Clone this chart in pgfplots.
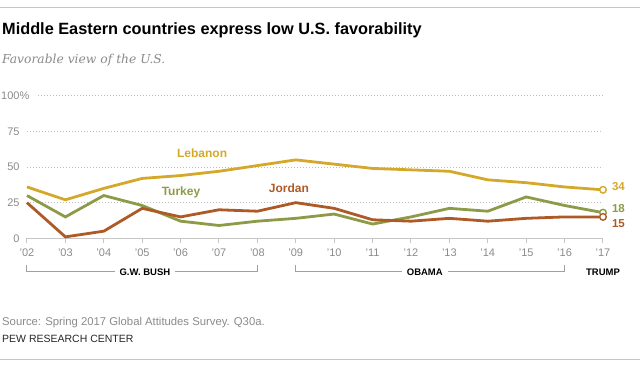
\documentclass[border=0pt]{standalone}
\usepackage{pgfplots}
\pgfplotsset{compat=1.18}
\usepackage{fontspec}
\setmainfont{Liberation Sans}
\newfontfamily\serifit{DejaVu Serif}
\definecolor{leb}{HTML}{D4A92B}
\definecolor{tur}{HTML}{8D9B48}
\definecolor{jor}{HTML}{AE5A27}
\definecolor{tickc}{HTML}{8A8A8A}
\definecolor{gridc}{HTML}{BDBDBD}
\definecolor{bracketc}{HTML}{A0A0A0}
\begin{document}
\begin{tikzpicture}
\path[use as bounding box] (0,0) rectangle (640pt,368pt);
\draw[gray!45, line width=1pt] (0,361pt) -- (640pt,361pt);
\draw[gray!45, line width=1pt] (0,8.7pt) -- (640pt,8.7pt);
\node[anchor=base west, inner sep=0] at (2pt,333.7pt) {\fontsize{16.3}{19}\selectfont\bfseries Middle Eastern countries express low U.S. favorability};
\node[anchor=base west, inner sep=0, text=tickc] at (2pt,304.7pt) {\serifit\itshape\fontsize{12.3}{14}\selectfont Favorable view of the U.S.};
\node[anchor=base west, inner sep=0, text=tickc] at (2pt,43pt) {\fontsize{11.3}{13}\selectfont Source: Spring 2017 Global Attitudes Survey. Q30a.};
\node[anchor=base west, inner sep=0, text=black!85] at (2pt,25.3pt) {\fontsize{10.5}{12}\selectfont PEW RESEARCH CENTER};
\begin{axis}[
  at={(27pt,129.7pt)}, anchor=south west,
  scale only axis, width=576pt, height=142.6pt,
  xmin=2002, xmax=2017, ymin=0, ymax=100,
  clip=false,
  axis x line*=bottom, axis y line*=left,
  y axis line style={draw=none},
  x axis line style={-, draw=gray!45, line width=1pt},
  xtick={2002,...,2017},
  xticklabels={'02,'03,'04,'05,'06,'07,'08,'09,'10,'11,'12,'13,'14,'15,'16,'17},
  ytick={0,25,50,75,100},
  yticklabels={0\hphantom{\%},25\hphantom{\%},50\hphantom{\%},75\hphantom{\%},100\%},
  ytick style={draw=none},
  xtick style={draw=gray!45, line width=1pt},
  tick align=outside,
  major tick length=5pt,
  ticklabel style={font=\fontsize{11}{13}\selectfont, text=tickc},
  yticklabel style={anchor=east, inner sep=0pt, xshift=7.5pt},
  xticklabel style={anchor=north, inner sep=0pt, yshift=-5pt},
]
\draw[gridc, line width=0.9pt, dash pattern=on 1.2pt off 1.8pt] (axis cs:2002,25) -- (axis cs:2017,25);
\draw[gridc, line width=0.9pt, dash pattern=on 1.2pt off 1.8pt] (axis cs:2002,50) -- (axis cs:2017,50);
\draw[gridc, line width=0.9pt, dash pattern=on 1.2pt off 1.8pt] (axis cs:2002,75) -- (axis cs:2017,75);
\draw[gridc, line width=0.9pt, dash pattern=on 1.2pt off 1.8pt] (axis cs:2002.28,100) -- (axis cs:2017,100);
\addplot[tur, line width=2.8pt, mark=*, mark indices={16}, mark size=3.3pt, mark options={fill=white, line width=1.4pt}] coordinates {
(2002,30)(2003,15)(2004,30)(2005,23)(2006,12)(2007,9)(2008,12)(2009,14)(2010,17)(2011,10)(2012,15)(2013,21)(2014,19)(2015,29)(2016,23)(2017,18)};
\addplot[jor, line width=2.8pt, mark=*, mark indices={16}, mark size=3.3pt, mark options={fill=white, line width=1.4pt}] coordinates {
(2002,25)(2003,1)(2004,5)(2005,21)(2006,15)(2007,20)(2008,19)(2009,25)(2010,21)(2011,13)(2012,12)(2013,14)(2014,12)(2015,14)(2016,15)(2017,15)};
\addplot[leb, line width=2.8pt, mark=*, mark indices={16}, mark size=3.3pt, mark options={fill=white, line width=1.4pt}] coordinates {
(2002,36)(2003,27)(2004,35)(2005,42)(2006,44)(2007,47)(2008,51)(2009,55)(2010,52)(2011,49)(2012,48)(2013,47)(2014,41)(2015,39)(2016,36)(2017,34)};
\node[text=leb, font=\fontsize{12}{14}\selectfont\bfseries] at (axis cs:2006.56,59.8) {Lebanon};
\node[text=tur, font=\fontsize{12}{14}\selectfont\bfseries] at (axis cs:2006.01,32.5) {Turkey};
\node[text=jor, font=\fontsize{12}{14}\selectfont\bfseries] at (axis cs:2008.82,35.3) {Jordan};
\node[text=leb, anchor=west, inner sep=0, font=\fontsize{11.5}{13}\selectfont\bfseries] at (axis cs:2017.23,36) {34};
\node[text=tur, anchor=west, inner sep=0, font=\fontsize{11.5}{13}\selectfont\bfseries] at (axis cs:2017.23,20.6) {18};
\node[text=jor, anchor=west, inner sep=0, font=\fontsize{11.5}{13}\selectfont\bfseries] at (axis cs:2017.23,10) {15};
% presidency brackets
\draw[bracketc, line width=1pt] (axis cs:2002,-18.7) -- (axis cs:2002,-23.3) -- (axis cs:2008,-23.3) -- (axis cs:2008,-18.7);
\draw[bracketc, line width=1pt] (axis cs:2009,-18.7) -- (axis cs:2009,-23.3) -- (axis cs:2016,-23.3) -- (axis cs:2016,-18.7);
\node[fill=white, inner xsep=5pt, inner ysep=1pt, font=\fontsize{9.5}{11}\selectfont\bfseries] at (axis cs:2005.07,-23.6) {G.W. BUSH};
\node[fill=white, inner xsep=5pt, inner ysep=1pt, font=\fontsize{9.5}{11}\selectfont\bfseries] at (axis cs:2012.36,-23.6) {OBAMA};
\node[inner sep=1pt, font=\fontsize{9.5}{11}\selectfont\bfseries] at (axis cs:2017,-23.6) {TRUMP};
\end{axis}
\end{tikzpicture}
\end{document}
